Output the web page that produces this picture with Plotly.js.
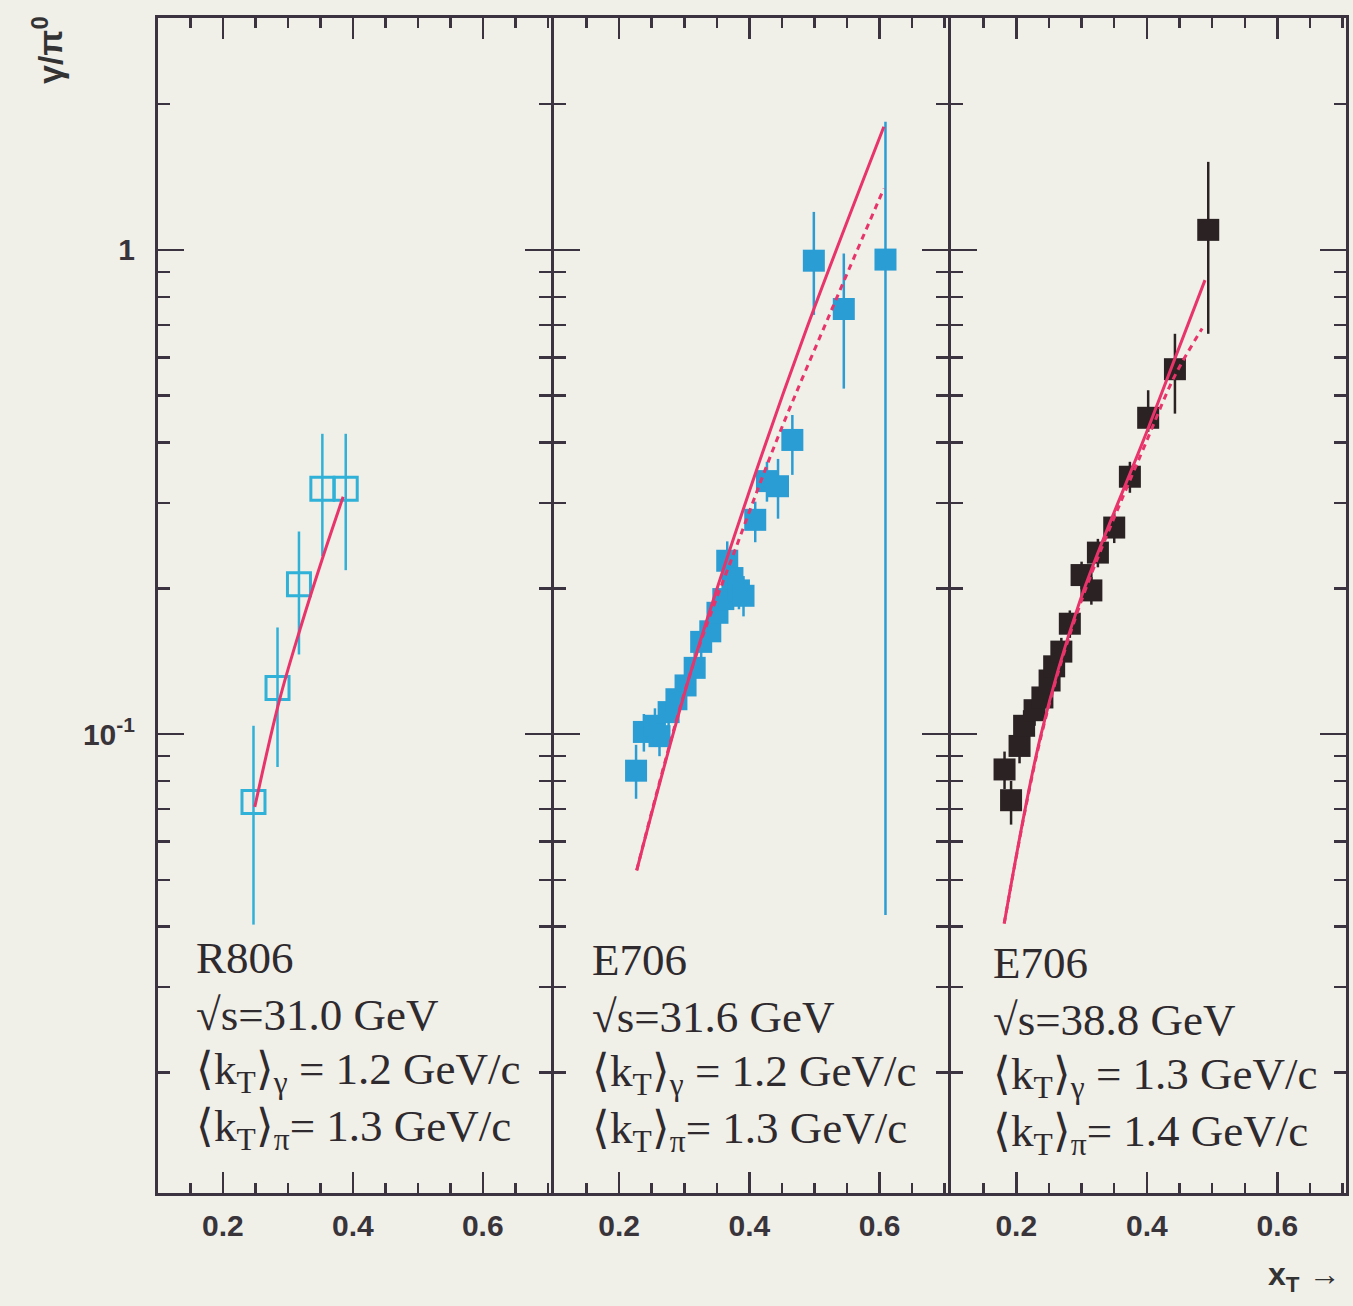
<!DOCTYPE html>
<html>
<head>
<meta charset="utf-8">
<script src="https://cdn.plot.ly/plotly-3.0.1.min.js"></script>
<style>html,body{margin:0;padding:0;background:#f0efe8;}</style>
</head>
<body>
<div id="chart" style="width:1353px;height:1306px;"></div>
<script>
// ---- Panel 1: R806, sqrt(s)=31.0 GeV (open squares)
const r806_x    = [0.247, 0.284, 0.317, 0.353, 0.389];
const r806_y    = [0.0724, 0.1245, 0.204, 0.321, 0.321];
const r806_hi   = [0.104, 0.166, 0.262, 0.417, 0.417];
const r806_lo   = [0.0404, 0.0855, 0.146, 0.233, 0.218];
const r806_fit_x = [0.249, 0.287, 0.320, 0.352, 0.385];
const r806_fit_y = [0.0707, 0.1175, 0.1668, 0.228, 0.309];

// ---- Panel 2: E706, sqrt(s)=31.6 GeV (filled cyan squares)
const e706a_x  = [0.226, 0.238, 0.255, 0.262, 0.276, 0.288, 0.302, 0.316, 0.326, 0.340, 0.351, 0.360, 0.366, 0.374, 0.384, 0.391, 0.409, 0.427, 0.444, 0.466, 0.499, 0.545, 0.609];
const e706a_y  = [0.084, 0.101, 0.104, 0.099, 0.111, 0.118, 0.126, 0.137, 0.155, 0.163, 0.178, 0.190, 0.228, 0.210, 0.198, 0.193, 0.277, 0.333, 0.325, 0.405, 0.950, 0.755, 0.955];
const e706a_hi = [0.095, 0.110, 0.113, 0.108, 0.121, 0.128, 0.137, 0.149, 0.168, 0.177, 0.194, 0.207, 0.250, 0.232, 0.215, 0.212, 0.302, 0.365, 0.370, 0.456, 1.198, 0.983, 1.84];
const e706a_lo = [0.0735, 0.092, 0.095, 0.090, 0.101, 0.108, 0.115, 0.125, 0.142, 0.149, 0.163, 0.174, 0.208, 0.190, 0.181, 0.175, 0.249, 0.302, 0.2785, 0.343, 0.734, 0.517, 0.0423];
const e706a_fit_x   = [0.227, 0.3116, 0.4117, 0.486, 0.6065];
const e706a_fit_y   = [0.0523, 0.1365, 0.353, 0.677, 1.796];
const e706a_fitd_x  = [0.227, 0.3116, 0.383, 0.445, 0.527, 0.6065];
const e706a_fitd_y  = [0.0523, 0.1365, 0.250, 0.414, 0.756, 1.339];

// ---- Panel 3: E706, sqrt(s)=38.8 GeV (filled black squares)
const e706b_x  = [0.182, 0.192, 0.205, 0.212, 0.228, 0.240, 0.251, 0.258, 0.269, 0.282, 0.300, 0.315, 0.325, 0.350, 0.374, 0.402, 0.443, 0.494];
const e706b_y  = [0.0845, 0.0730, 0.0945, 0.104, 0.112, 0.119, 0.129, 0.138, 0.148, 0.169, 0.213, 0.198, 0.237, 0.267, 0.340, 0.450, 0.567, 1.10];
const e706b_hi = [0.092, 0.080, 0.102, 0.112, 0.120, 0.127, 0.138, 0.147, 0.158, 0.180, 0.227, 0.211, 0.253, 0.286, 0.365, 0.513, 0.671, 1.52];
const e706b_lo = [0.077, 0.065, 0.087, 0.096, 0.104, 0.111, 0.120, 0.129, 0.138, 0.158, 0.199, 0.185, 0.221, 0.248, 0.315, 0.421, 0.459, 0.671];
const e706b_fit_x  = [0.1815, 0.238, 0.297, 0.402, 0.489];
const e706b_fit_y  = [0.0406, 0.100, 0.1875, 0.428, 0.866];
const e706b_fitd_x = [0.1815, 0.238, 0.297, 0.402, 0.443, 0.4846];
const e706b_fitd_y = [0.0406, 0.099, 0.184, 0.410, 0.550, 0.688];

// ---- Text
const panelText = [
  ["R806", "√s=31.0 GeV", "⟨k<sub>T</sub>⟩<sub>γ</sub> = 1.2 GeV/c", "⟨k<sub>T</sub>⟩<sub>π</sub>= 1.3 GeV/c"],
  ["E706", "√s=31.6 GeV", "⟨k<sub>T</sub>⟩<sub>γ</sub> = 1.2 GeV/c", "⟨k<sub>T</sub>⟩<sub>π</sub>= 1.3 GeV/c"],
  ["E706", "√s=38.8 GeV", "⟨k<sub>T</sub>⟩<sub>γ</sub> = 1.3 GeV/c", "⟨k<sub>T</sub>⟩<sub>π</sub>= 1.4 GeV/c"]
];
const xTickVals = [0.2, 0.4, 0.6];
const xTickText = ["0.2", "0.4", "0.6"];
const yTickVals = [0.1, 1];
const yTickText = ["10<sup>-1</sup>", "1"];

// ---- styling
const W = 1353, H = 1306;
const BG = '#f0efe8';
const AX = '#3b3340';
const CYAN = '#2fb1d8';
const CYAN2 = '#2a9dd4';
const BLACK = '#2b2224';
const RED = '#e8346a';

function plus(y, hi){ return y.map((v,i)=>hi[i]-v); }
function minus(y, lo){ return y.map((v,i)=>v-lo[i]); }

const xMinor = [];
for (let k = 2; k <= 14; k++) xMinor.push(+(k*0.05).toFixed(2));
const yMinor = [];
[0.01, 0.1, 1].forEach(d => { for (let m = 2; m <= 9; m++) yMinor.push(+(m*d).toPrecision(3)); });

const traces = [];
function addPanel(n, xs, ys, hi, lo, color, symbol, fx, fy, fdx, fdy) {
  const xa = n === 1 ? 'x' : 'x' + n;
  const ya = n === 1 ? 'y' : 'y' + n;
  const open = symbol === 'square-open';
  traces.push({
    x: xs, y: ys, xaxis: xa, yaxis: ya, type: 'scatter', mode: 'markers',
    marker: {symbol: symbol, size: open ? 23 : 22, color: color,
             line: {color: color, width: open ? 3 : 0}},
    error_y: {type: 'data', symmetric: false, array: plus(ys, hi), arrayminus: minus(ys, lo),
              color: color, thickness: 2.5, width: 0},
    hoverinfo: 'x+y', showlegend: false
  });
  if (fdx) traces.push({
    x: fdx, y: fdy, xaxis: xa, yaxis: ya, type: 'scatter', mode: 'lines',
    line: {color: RED, width: 3, dash: '6px,5px', shape: 'spline'}, showlegend: false
  });
  traces.push({
    x: fx, y: fy, xaxis: xa, yaxis: ya, type: 'scatter', mode: 'lines',
    line: {color: RED, width: 3, shape: 'spline'}, showlegend: false
  });
}
addPanel(1, r806_x, r806_y, r806_hi, r806_lo, CYAN, 'square-open', r806_fit_x, r806_fit_y, null, null);
addPanel(2, e706a_x, e706a_y, e706a_hi, e706a_lo, CYAN2, 'square', e706a_fit_x, e706a_fit_y, e706a_fitd_x, e706a_fitd_y);
addPanel(3, e706b_x, e706b_y, e706b_hi, e706b_lo, BLACK, 'square', e706b_fit_x, e706b_fit_y, e706b_fitd_x, e706b_fitd_y);

const pxL = [158, 554, 951], pxR = [551, 948, 1346];
const yTop = 18, yBot = 1193;
const yDomain = [1 - yBot / H, 1 - yTop / H];

const layout = {
  width: W, height: H,
  margin: {l: 0, r: 0, t: 0, b: 0},
  paper_bgcolor: BG, plot_bgcolor: BG,
  showlegend: false,
  font: {family: 'Liberation Sans, Arial, sans-serif', color: '#333'},
  annotations: [],
  shapes: []
};
const tickFont = {size: 30, color: '#38343a', family: 'Liberation Sans, Arial, sans-serif', weight: 'bold'};
for (let i = 0; i < 3; i++) {
  const n = i + 1;
  const xk = n === 1 ? 'xaxis' : 'xaxis' + n;
  const yk = n === 1 ? 'yaxis' : 'yaxis' + n;
  layout[xk] = {
    domain: [pxL[i] / W, pxR[i] / W], range: [0.1, 0.705],
    anchor: n === 1 ? 'y' : 'y' + n,
    showline: true, linecolor: AX, linewidth: 3, mirror: 'ticks',
    ticks: 'inside', ticklen: 21, tickwidth: 2.5, tickcolor: AX,
    tickmode: 'array', tickvals: xTickVals, ticktext: xTickText,
    tickfont: tickFont, ticklabelstandoff: 4,
    minor: {tickmode: 'array', tickvals: xMinor, ticks: 'inside', ticklen: 10, tickwidth: 2.5, tickcolor: AX, showgrid: false},
    showgrid: false, zeroline: false, fixedrange: true
  };
  layout[yk] = {
    domain: yDomain, type: 'log', range: [-1.948, 0.479],
    anchor: n === 1 ? 'x' : 'x' + n,
    showline: true, linecolor: AX, linewidth: 3, mirror: 'ticks',
    ticks: 'inside', ticklen: 26, tickwidth: 2.5, tickcolor: AX,
    tickmode: 'array', tickvals: yTickVals, ticktext: yTickText,
    showticklabels: n === 1,
    tickfont: tickFont,
    ticklabelstandoff: 14,
    minor: {tickmode: 'array', tickvals: yMinor, ticks: 'inside', ticklen: 12, tickwidth: 2.5, tickcolor: AX, showgrid: false},
    showgrid: false, zeroline: false, fixedrange: true
  };
  const textX = [194, 590, 991][i];
  const base = [973, 975, 978][i];
  panelText[i].forEach((t, j) => {
    layout.annotations.push({
      xref: 'paper', yref: 'paper', x: textX / W, y: 1 - (base + j * 57 - 15) / H,
      xanchor: 'left', yanchor: 'middle', showarrow: false, text: t,
      font: {family: 'Liberation Serif, Times New Roman, serif', size: 45, color: '#2e2a2e'}
    });
  });
}
// axis titles
layout.annotations.push({
  xref: 'paper', yref: 'paper', x: 48 / W, y: 1 - 50 / H, xanchor: 'center', yanchor: 'middle',
  showarrow: false, textangle: -90, text: 'γ/π<sup>0</sup>',
  font: {family: 'Liberation Sans, Arial, sans-serif', size: 34, color: '#333', weight: 'bold'}
});
layout.annotations.push({
  xref: 'paper', yref: 'paper', x: 1342 / W, y: 1 - 1276 / H, xanchor: 'right', yanchor: 'middle',
  showarrow: false, text: 'x<sub>T</sub> →',
  font: {family: 'Liberation Sans, Arial, sans-serif', size: 32, color: '#333', weight: 'bold'}
});

Plotly.newPlot('chart', traces, layout, {displayModeBar: false, staticPlot: true});
</script>
</body>
</html>
